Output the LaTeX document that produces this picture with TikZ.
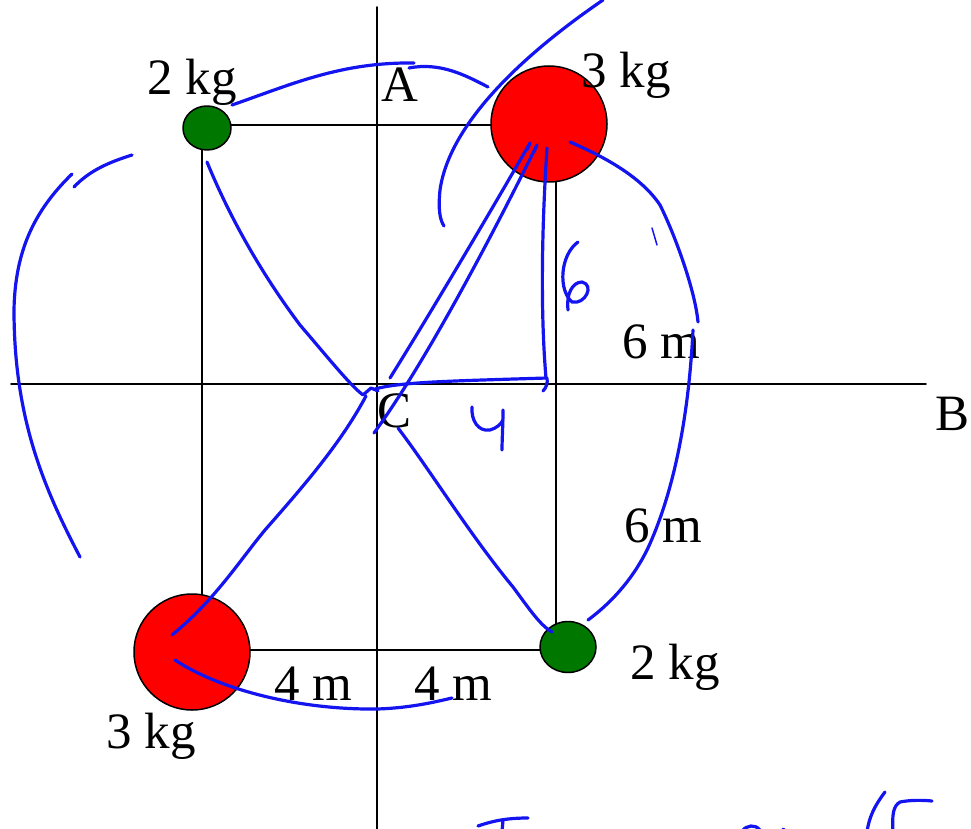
\documentclass[tikz,border=0pt]{standalone}
\usepackage{fontspec}
\setmainfont{Liberation Serif}
\usepackage{xcolor}
\usepackage{tikz}
\usetikzlibrary{shapes.geometric}
\definecolor{heavy}{HTML}{FF0000}
\definecolor{light}{HTML}{007800}
\definecolor{pen}{HTML}{1414F0}
\definecolor{line}{HTML}{000000}

\tikzset{
  heavymass/.style={circle,draw=line,line width=1.5pt,fill=heavy,minimum size=116pt,inner sep=0pt},
  lightmass/.style={ellipse,draw=line,line width=1.5pt,fill=light,inner sep=0pt},
  lbl/.style={anchor=base,inner sep=0pt,font=\fontsize{51}{51}\selectfont},
  frame/.style={line,line width=1.6pt},
  ink/.style={pen,line width=3.2pt}
}

\begin{document}
\begin{tikzpicture}[x=1pt,y={(0pt,-1pt)},line cap=round,line join=round]
  \useasboundingbox (0,0) rectangle (971,829);
  \coordinate (ytop) at (377,7);
  \coordinate (ybot) at (377,832);
  \coordinate (xleft) at (11,384);
  \coordinate (xright) at (926,384);
  \coordinate (tl) at (202,125);
  \coordinate (br) at (556,650);
  \draw[frame] (ytop) -- (ybot);
  \draw[frame] (xleft) -- (xright);
  \draw[frame] (tl) rectangle (br);

  \node[lightmass,minimum width=48pt,minimum height=44pt] (tlmass) at (207,128) {};
  \node[heavymass] (trmass) at (549,124) {};
  \node[heavymass] (blmass) at (192,652) {};
  \node[lightmass,minimum width=56pt,minimum height=51pt] (brmass) at (568,647) {};

  \node[lbl] (tlkg) at (192,95) {2 kg};
  \node[lbl] (labA) at (400,102) {A};
  \node[lbl] (trkg) at (626,88) {3 kg};
  \node[lbl] (upsix) at (661,358) {6 m};
  \node[lbl] (labB) at (952,430) {B};
  \node[lbl] (labC) at (395,427) {C};
  \node[lbl] (lowsix) at (663,542) {6 m};
  \node[lbl] (brkg) at (675,679) {2 kg};
  \node[lbl] (leftfour) at (313,700) {4 m};
  \node[lbl] (rightfour) at (453,700) {4 m};
  \node[lbl] (blkg) at (151,748) {3 kg};

  \draw[ink] (232,105) .. controls (290,85) and (340,62) .. (414,63);
  \draw[ink] (409,68) .. controls (440,62) and (465,75) .. (488,87);
  \draw[ink] (603,0) .. controls (530,50) and (450,120) .. (440,190) .. controls (438,210) and (440,220) .. (444,226);
  \draw[ink] (132,155) .. controls (110,162) and (90,170) .. (74,187);
  \draw[ink] (72,174) .. controls (35,210) and (15,250) .. (14,310) .. controls (14,420) and (45,490) .. (80,557);
  \draw[ink] (207,162) .. controls (235,230) and (270,285) .. (300,325) .. controls (330,360) and (350,385) .. (363,395) -- (371,388) -- (378,391);
  \draw[ink] (172,635) .. controls (215,600) and (240,560) .. (265,530) .. controls (300,490) and (340,445) .. (366,396);
  \draw[ink] (374,433) .. controls (420,370) and (480,260) .. (537,145) -- (534,152);
  \draw[ink] (390,378) .. controls (420,330) and (480,230) .. (530,143) -- (527,150);
  \draw[ink] (375,389) .. controls (400,382) and (450,381) .. (547,378) .. controls (548,383) and (546,388) .. (543,391);
  \draw[ink] (547,148) .. controls (541,240) and (541,320) .. (546,378);
  \draw[ink] (570,142) .. controls (600,155) and (640,175) .. (660,205) .. controls (675,235) and (695,290) .. (698,322);
  \draw[ink] (693,330) .. controls (688,430) and (670,500) .. (648,548) .. controls (635,575) and (615,600) .. (588,620);
  \draw[pen,line width=1.5pt] (652,228) -- (657,245);
  \draw[ink] (398,428) .. controls (430,470) and (470,535) .. (513,587) .. controls (530,610) and (540,625) .. (552,632);
  \draw[ink] (175,660) .. controls (220,690) and (300,710) .. (377,709) .. controls (410,708) and (435,702) .. (452,698);

  \draw[ink] (578,242) .. controls (560,255) and (558,290) .. (572,302) .. controls (585,305) and (595,285) .. (582,282) .. controls (572,282) and (566,295) .. (568,310);
  \draw[ink] (472,407) .. controls (471,420) and (478,432) .. (490,430) .. controls (497,428) and (501,424) .. (503,420);
  \draw[ink] (503,410) .. controls (503,425) and (502,440) .. (502,450);

  \draw[ink] (478,826) .. controls (495,820) and (510,818) .. (528,818);
  \draw[ink] (503,820) -- (502,832);
  \draw[ink] (742,831) .. controls (747,825) and (755,824) .. (760,830);
  \draw[ink] (783,829) -- (785,831);
  \draw[ink] (885,792) .. controls (875,805) and (869,817) .. (867,832);
  \draw[ink] (893,832) .. controls (892,815) and (893,806) .. (900,802) .. controls (910,800) and (922,800) .. (932,801);
\end{tikzpicture}
\end{document}
